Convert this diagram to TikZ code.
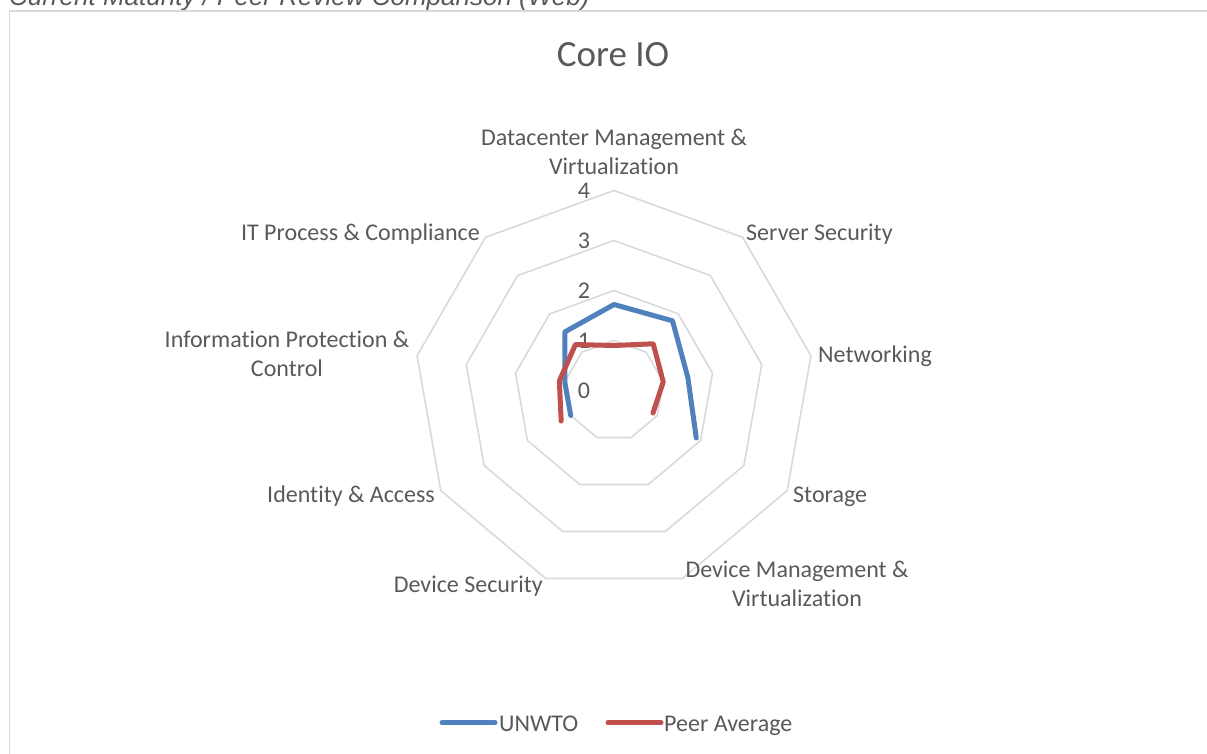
\documentclass[tikz,border=0pt]{standalone}
\usepackage{fontspec}
\setmainfont{Carlito}[Ligatures=NoCommon]
\newfontfamily\capfont{Liberation Sans}
\definecolor{gridgrey}{HTML}{D9D9D9}
\definecolor{textgrey}{HTML}{595959}
\definecolor{seriesblue}{HTML}{4F81BD}
\definecolor{seriesred}{HTML}{C0504D}
\begin{document}
\begin{tikzpicture}[x=1pt,y=-1pt,
  gridline/.style={draw=gridgrey,line width=1.6pt,line join=miter},
  frameline/.style={draw=gridgrey,line width=1.5pt},
  serieswidth/.style={line width=5pt,line join=round,line cap=round},
  bluedata/.style={serieswidth,draw=seriesblue},
  reddata/.style={serieswidth,draw=seriesred},
  lbl/.style={text=textgrey,inner sep=0pt,font=\fontsize{24}{29}\selectfont},
  catlbl/.style={lbl,align=center},
  vallbl/.style={lbl,anchor=base}
]
\useasboundingbox (0,0) rectangle (1207,753);
\clip (0,0) rectangle (1207,753);

% caption above the chart frame (partly off the page)
\node[anchor=base west,inner sep=0pt,text=textgrey,
      font=\capfont\itshape\fontsize{26}{30}\selectfont] (caption) at (9,5.5)
  {Current Maturity / Peer Review Comparison (Web)};

% chart frame
\draw[frameline] (9.5,11) rectangle (1212,760);

% title
\node[lbl,anchor=base,font=\fontsize{37}{44}\selectfont] (title) at (613,66.5) {Core IO};

% concentric nine-sided grid rings, 50px per unit
\foreach \r in {1,...,4}
  \draw[gridline] plot[samples=10,domain=0:360]
    ({614+50*\r*sin(\x)},{390.5-50*\r*cos(\x)}) -- cycle;

% value axis labels
\foreach \v in {0,...,4}
  \node[vallbl] (v\v) at (584,{398.5-50*\v}) {\v};

% category labels
\node[catlbl] (c0) at (614,152) {Datacenter Management \&\\Virtualization};
\node[lbl,anchor=base west] (c1) at (746,240) {Server Security};
\node[lbl,anchor=base west] (c2) at (818,362) {Networking};
\node[lbl,anchor=base west] (c3) at (793,502) {Storage};
\node[catlbl] (c4) at (797,584) {Device Management \&\\Virtualization};
\node[lbl,anchor=base east] (c5) at (543,592) {Device Security};
\node[lbl,anchor=base east] (c6) at (435,502) {Identity \& Access};
\node[catlbl] (c7) at (287,354) {Information Protection \&\\Control};
\node[lbl,anchor=base east] (c8) at (480,240) {IT Process \& Compliance};

% data points (axis index / value)
\foreach \k/\v in {0/1.72,1/1.82,2/1.5,3/1.9,6/1.0,7/1.0,8/1.53}
  \coordinate (b\k) at ({614+50*\v*sin(40*\k)},{390.5-50*\v*cos(40*\k)});
\foreach \k/\v in {0/0.9,1/1.22,2/1.0,3/0.9,6/1.22,7/1.11,8/1.2}
  \coordinate (p\k) at ({614+50*\v*sin(40*\k)},{390.5-50*\v*cos(40*\k)});

% series (no values on axes 4 and 5, so each line is open)
\draw[bluedata] (b6) -- (b7) -- (b8) -- (b0) -- (b1) -- (b2) -- (b3);
\draw[reddata] (p6) -- (p7) -- (p8) -- (p0) -- (p1) -- (p2) -- (p3);

% legend
\coordinate (lb1) at (442,722.7);
\coordinate (lb2) at (495,722.7);
\coordinate (lr1) at (608,722.7);
\coordinate (lr2) at (661,722.7);
\draw[bluedata] (lb1) -- (lb2);
\draw[reddata] (lr1) -- (lr2);
\node[lbl,anchor=base west] (legblue) at (499,731) {UNWTO};
\node[lbl,anchor=base west] (legred) at (664,731) {Peer Average};
\end{tikzpicture}
\end{document}
